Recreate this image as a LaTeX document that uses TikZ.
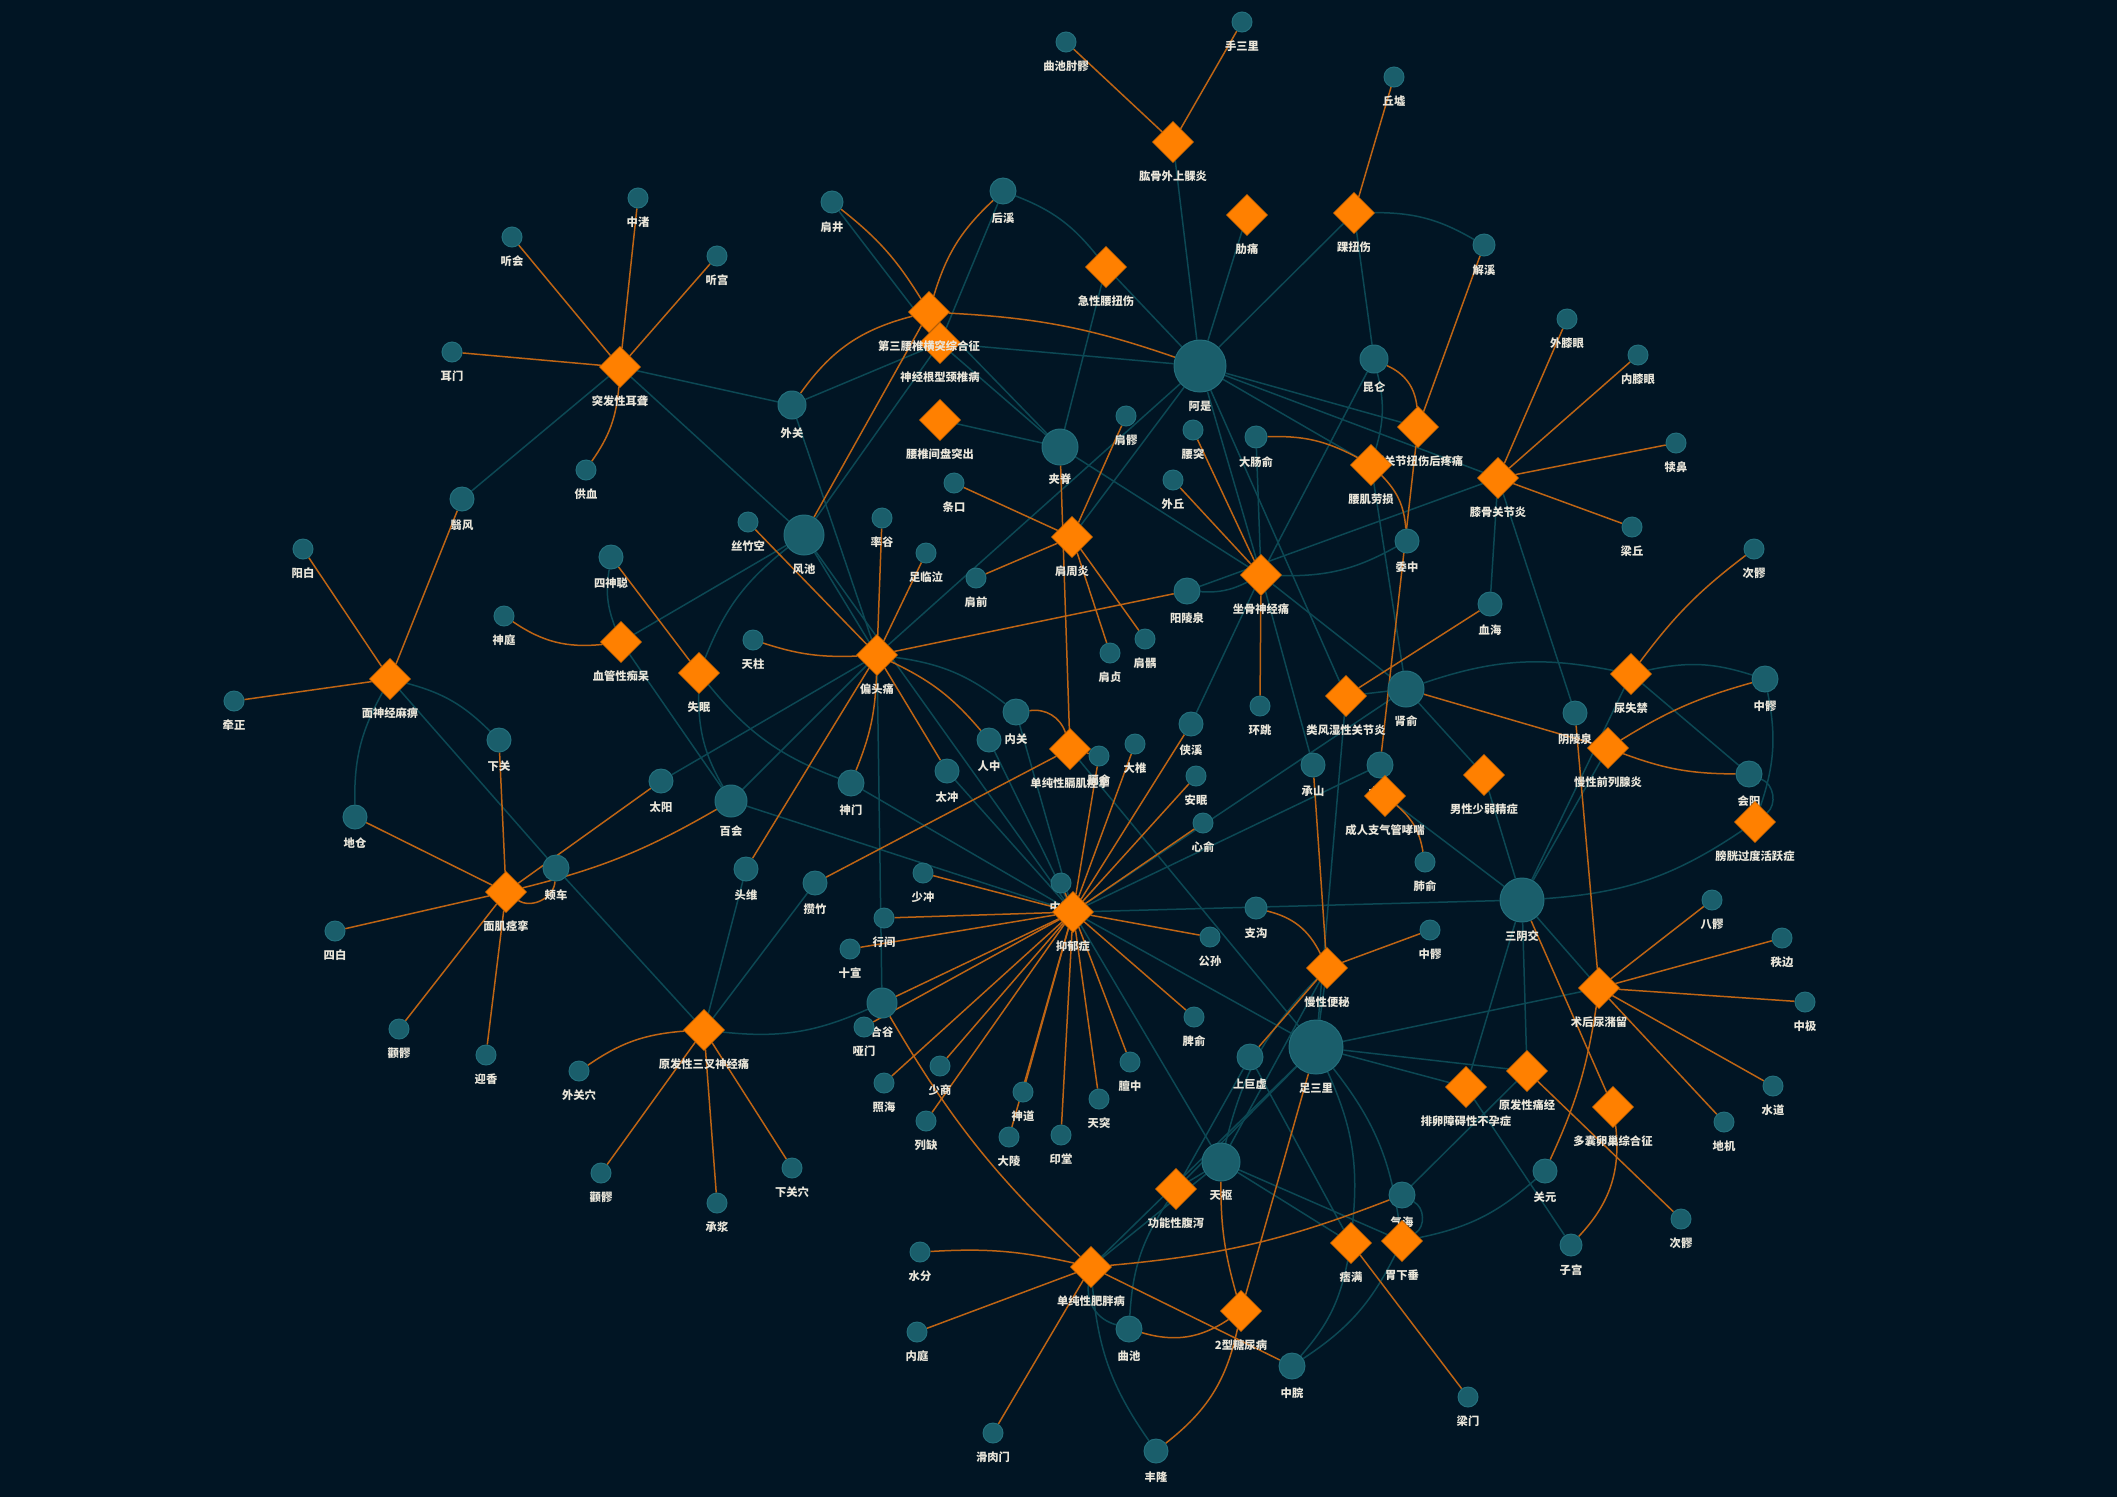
\documentclass[tikz,border=0pt]{standalone}
\usepackage{fontspec}
\newfontfamily\cjk{Noto Sans CJK SC}
\usetikzlibrary{shapes.geometric}
\definecolor{bgc}{HTML}{011524}
\definecolor{acufill}{HTML}{1A5E6B}
\definecolor{acuedge}{HTML}{236F7C}
\definecolor{disfill}{HTML}{FF8000}
\definecolor{disedge}{HTML}{E07000}
\definecolor{mainc}{HTML}{BE6414}
\definecolor{sidec}{HTML}{0C4854}
\definecolor{labc}{HTML}{EAE6DA}
\pgfdeclarelayer{bg}
\pgfdeclarelayer{links}
\pgfsetlayers{bg,links,main}
\newcommand\lblfont{\cjk\bfseries\fontsize{11.3}{13}\selectfont}

\begin{document}
\begin{tikzpicture}[x=1pt, y=1pt, label distance=8pt,
    acu/.style={circle, fill=acufill, draw=acuedge, line width=1pt, inner sep=0pt, minimum size=#1pt},
    dis/.style={diamond, fill=disfill, draw=disedge, line width=0.8pt, inner sep=0pt, minimum size=41pt},
    nm/.style={label={[lab]below:#1}},
    lab/.style={text=labc, font=\lblfont, inner sep=0pt},
    mainlink/.style={draw=mainc, line width=1.5pt},
    sidelink/.style={draw=sidec, line width=1.5pt}]
  \useasboundingbox (0,0) rectangle (2117,-1497);
  \begin{pgfonlayer}{bg}
    \fill[bgc] (0,0) rectangle (2117,-1497);
  \end{pgfonlayer}

  % acupoints
  \node[acu=20, nm=听会] (tinghui) at (512,-237) {};
  \node[acu=20, nm=耳门] (ermen) at (452,-352) {};
  \node[acu=24, nm=翳风] (yifeng) at (462,-499) {};
  \node[acu=20, nm=中渚] (zhongzhu) at (638,-198) {};
  \node[acu=20, nm=听宫] (tinggong) at (717,-256) {};
  \node[acu=22, nm=肩井] (jianjing) at (832,-202) {};
  \node[acu=26, nm=后溪] (houxi) at (1003,-191) {};
  \node[acu=28, nm=外关] (waiguan) at (792,-405) {};
  \node[acu=20, nm=供血] (gongxue) at (586,-470) {};
  \node[acu=20, nm=条口] (tiaokou) at (954,-483) {};
  \node[acu=20, nm=曲池肘髎] (quchizhouliao) at (1066,-42) {};
  \node[acu=20, nm=手三里] (shousanli) at (1242,-22) {};
  \node[acu=20, nm=丘墟] (qiuxu) at (1394,-77) {};
  \node[acu=22, nm=解溪] (jiexi) at (1484,-245) {};
  \node[acu=20, nm=外膝眼] (waixiyan) at (1567,-319) {};
  \node[acu=20, nm=内膝眼] (neixiyan) at (1638,-355) {};
  \node[acu=20, nm=犊鼻] (dubi) at (1676,-443) {};
  \node[acu=20, nm=梁丘] (liangqiu) at (1632,-527) {};
  \node[acu=52, nm=阿是] (ashi) at (1200,-366) {};
  \node[acu=28, nm=昆仑] (kunlun) at (1374,-359) {};
  \node[acu=20, nm=肩髎] (jianliao) at (1126,-416) {};
  \node[acu=20, nm=腰突] (yaotu) at (1193,-430) {};
  \node[acu=22, nm=大肠俞] (dachangshu) at (1256,-437) {};
  \node[acu=20, nm=外丘] (waiqiu) at (1173,-480) {};
  \node[acu=36, nm=夹脊] (jiaji) at (1060,-447) {};
  \node[acu=20, nm=阳白] (yangbai) at (303,-549) {};
  \node[acu=20, nm=神庭] (shenting) at (504,-616) {};
  \node[acu=20, nm=牵正] (qianzheng) at (234,-701) {};
  \node[acu=24, nm=下关] (xiaguan) at (499,-740) {};
  \node[acu=24, nm=地仓] (dicang) at (355,-817) {};
  \node[acu=20, nm=四白] (sibai) at (335,-931) {};
  \node[acu=20, nm=颧髎] (quanliaoA) at (399,-1029) {};
  \node[acu=20, nm=迎香] (yingxiang) at (486,-1055) {};
  \node[acu=20, nm=丝竹空] (sizhukong) at (748,-522) {};
  \node[acu=40, nm=风池] (fengchi) at (804,-535) {};
  \node[acu=20, nm=率谷] (shuaigu) at (882,-518) {};
  \node[acu=20, nm=足临泣] (zulinqi) at (926,-553) {};
  \node[acu=20, nm=肩前] (jianqian) at (976,-578) {};
  \node[acu=24, nm=四神聪] (sishencong) at (611,-557) {};
  \node[acu=20, nm=天柱] (tianzhu) at (753,-640) {};
  \node[acu=26, nm=内关] (neiguan) at (1016,-712) {};
  \node[acu=24, nm=人中] (renzhong) at (989,-740) {};
  \node[acu=24, nm=太冲] (taichong) at (947,-771) {};
  \node[acu=26, nm=神门] (shenmen) at (851,-783) {};
  \node[acu=24, nm=太阳] (taiyang) at (661,-781) {};
  \node[acu=32, nm=百会] (baihui) at (731,-801) {};
  \node[acu=26, nm=颊车] (jiache) at (556,-868) {};
  \node[acu=24, nm=头维] (touwei) at (746,-869) {};
  \node[acu=24, nm=攒竹] (cuanzhu) at (815,-883) {};
  \node[acu=20, nm=少冲] (shaochong) at (923,-873) {};
  \node[acu=20, nm=行间] (xingjian) at (884,-918) {};
  \node[acu=20, nm=十宣] (shixuan) at (850,-949) {};
  \node[acu=30, nm=合谷] (hegu) at (882,-1003) {};
  \node[acu=26, nm=阳陵泉] (yanglingquan) at (1187,-591) {};
  \node[acu=24, nm=委中] (weizhong) at (1407,-541) {};
  \node[acu=24, nm=血海] (xuehai) at (1490,-604) {};
  \node[acu=20, nm=肩贞] (jianzhen) at (1110,-653) {};
  \node[acu=20, nm=肩髃] (jianyu) at (1145,-639) {};
  \node[acu=20, nm=环跳] (huantiao) at (1260,-706) {};
  \node[acu=36, nm=肾俞] (shenshu) at (1406,-689) {};
  \node[acu=24, nm=侠溪] (xiaxi) at (1191,-724) {};
  \node[acu=20, nm=大椎] (dazhui) at (1135,-744) {};
  \node[acu=20, nm=膈俞] (geshu) at (1099,-756) {};
  \node[acu=20, nm=安眠] (anmian) at (1196,-776) {};
  \node[acu=20, nm=心俞] (xinshu) at (1203,-823) {};
  \node[acu=24, nm=承山] (chengshan) at (1313,-765) {};
  \node[acu=26, nm=太溪] (taixi) at (1380,-765) {};
  \node[acu=20, nm=肺俞] (feishu) at (1425,-862) {};
  \node[acu=20, nm=中脘] (zhongwanA) at (1061,-883) {};
  \node[acu=22, nm=支沟] (zhigou) at (1256,-908) {};
  \node[acu=20, nm=公孙] (gongsun) at (1210,-937) {};
  \node[acu=44, nm=三阴交] (sanyinjiao) at (1522,-900) {};
  \node[acu=20, nm=中髎] (zhongliaoA) at (1430,-930) {};
  \node[acu=20, nm=次髎] (ciliaoA) at (1754,-549) {};
  \node[acu=26, nm=中髎] (zhongliaoB) at (1765,-679) {};
  \node[acu=26, nm=会阳] (huiyang) at (1749,-774) {};
  \node[acu=20, nm=八髎] (baliao) at (1712,-900) {};
  \node[acu=20, nm=秩边] (zhibian) at (1782,-938) {};
  \node[acu=24, nm=阴陵泉] (yinlingquan) at (1575,-713) {};
  \node[acu=20, nm=中极] (zhongji) at (1805,-1002) {};
  \node[acu=20, nm=水道] (shuidao) at (1773,-1086) {};
  \node[acu=20, nm=地机] (diji) at (1724,-1122) {};
  \node[acu=20, nm=次髎] (ciliaoB) at (1681,-1219) {};
  \node[acu=22, nm=子宫] (zigong) at (1571,-1245) {};
  \node[acu=20, nm=脾俞] (pishu) at (1194,-1017) {};
  \node[acu=26, nm=上巨虚] (shangjuxu) at (1250,-1057) {};
  \node[acu=54, nm=足三里] (zusanli) at (1316,-1047) {};
  \node[acu=20, nm=膻中] (danzhong) at (1130,-1062) {};
  \node[acu=20, nm=天突] (tiantu) at (1099,-1099) {};
  \node[acu=20, nm=印堂] (yintang) at (1061,-1135) {};
  \node[acu=38, nm=天枢] (tianshu) at (1221,-1162) {};
  \node[acu=26, nm=气海] (qihai) at (1402,-1195) {};
  \node[acu=24, nm=关元] (guanyuan) at (1545,-1171) {};
  \node[acu=26, nm=曲池] (quchi) at (1129,-1329) {};
  \node[acu=26, nm=中脘] (zhongwanB) at (1292,-1366) {};
  \node[acu=20, nm=梁门] (liangmen) at (1468,-1397) {};
  \node[acu=24, nm=丰隆] (fenglong) at (1156,-1451) {};
  \node[acu=20, nm=外关穴] (waiguanxue) at (579,-1071) {};
  \node[acu=20, nm=颧髎] (quanliaoB) at (601,-1173) {};
  \node[acu=20, nm=承浆] (chengjiang) at (717,-1203) {};
  \node[acu=20, nm=下关穴] (xiaguanxue) at (792,-1168) {};
  \node[acu=20, nm=哑门] (yamen) at (864,-1027) {};
  \node[acu=20, nm=照海] (zhaohai) at (884,-1083) {};
  \node[acu=20, nm=少商] (shaoshang) at (940,-1066) {};
  \node[acu=20, nm=列缺] (lieque) at (926,-1121) {};
  \node[acu=20, nm=神道] (shendao) at (1023,-1092) {};
  \node[acu=20, nm=大陵] (daling) at (1009,-1137) {};
  \node[acu=20, nm=水分] (shuifen) at (920,-1252) {};
  \node[acu=20, nm=内庭] (neiting) at (917,-1332) {};
  \node[acu=20, nm=滑肉门] (huaroumen) at (993,-1433) {};

  % diseases
  \node[dis, nm=肱骨外上髁炎] (gwsk) at (1173,-142) {};
  \node[dis, nm=踝扭伤] (huainiu) at (1354,-213) {};
  \node[dis, nm=肋痛] (leitong) at (1247,-215) {};
  \node[dis, nm=急性腰扭伤] (jixyn) at (1106,-267) {};
  \node[dis, nm=突发性耳聋] (tfen) at (620,-367) {};
  \node[dis, nm=神经根型颈椎病] (shenjg) at (940,-343) {};
  \node[dis, nm=第三腰椎横突综合征] (disan) at (929,-312) {};
  \node[dis, nm=腰椎间盘突出] (yaozhui) at (940,-420) {};
  \node[dis, nm=踝关节扭伤后疼痛] (huaigj) at (1418,-427) {};
  \node[dis, nm=腰肌劳损] (yaoji) at (1371,-465) {};
  \node[dis, nm=膝骨关节炎] (xigu) at (1498,-478) {};
  \node[dis, nm=肩周炎] (jianzhou) at (1072,-537) {};
  \node[dis, nm=坐骨神经痛] (zuogu) at (1261,-575) {};
  \node[dis, nm=面神经麻痹] (mianshen) at (390,-679) {};
  \node[dis, nm=血管性痴呆] (xueguan) at (621,-642) {};
  \node[dis, nm=失眠] (shimian) at (699,-673) {};
  \node[dis, nm=偏头痛] (piantou) at (877,-655) {};
  \node[dis, nm=单纯性膈肌痉挛] (geji) at (1070,-749) {};
  \node[dis, nm=类风湿性关节炎] (leifeng) at (1346,-696) {};
  \node[dis, nm=尿失禁] (niaoshi) at (1631,-674) {};
  \node[dis, nm=慢性前列腺炎] (qianlie) at (1608,-748) {};
  \node[dis, nm=男性少弱精症] (nanxing) at (1484,-775) {};
  \node[dis, nm=成人支气管哮喘] (xiaochuan) at (1385,-796) {};
  \node[dis, nm=膀胱过度活跃症] (pangguang) at (1755,-822) {};
  \node[dis, nm=面肌痉挛] (mianji) at (506,-892) {};
  \node[dis, nm=抑郁症] (yiyu) at (1073,-912) {};
  \node[dis, nm=慢性便秘] (bianmi) at (1327,-968) {};
  \node[dis, nm=术后尿潴留] (shuhou) at (1599,-988) {};
  \node[dis, nm=原发性三叉神经痛] (sancha) at (704,-1030) {};
  \node[dis, nm=排卵障碍性不孕症] (pailuan) at (1466,-1087) {};
  \node[dis, nm=原发性痛经] (tongjing) at (1527,-1071) {};
  \node[dis, nm=多囊卵巢综合征] (duonang) at (1613,-1107) {};
  \node[dis, nm=功能性腹泻] (gongneng) at (1176,-1189) {};
  \node[dis, nm=痞满] (piman) at (1351,-1243) {};
  \node[dis, nm=胃下垂] (weixia) at (1402,-1241) {};
  \node[dis, nm=单纯性肥胖病] (feipang) at (1091,-1267) {};
  \node[dis, nm=2型糖尿病] (tangniao) at (1241,-1311) {};

  \begin{pgfonlayer}{links}
    % side links
    \foreach \a/\b in {gwsk/ashi, huainiu/ashi, huainiu/kunlun, leitong/ashi, jixyn/ashi, jixyn/jiaji,
        jianjing/shenjg, houxi/shenjg, shenjg/ashi, shenjg/waiguan, shenjg/fengchi, shenjg/jiaji,
        disan/jiaji, yaozhui/jiaji, tfen/waiguan, tfen/yifeng, tfen/fengchi,
        ashi/huaigj, ashi/xigu, ashi/yaoji, ashi/zuogu, ashi/jianzhou, ashi/leifeng, ashi/piantou,
        kunlun/zuogu, xigu/xuehai, xigu/yinlingquan, xigu/yanglingquan, yaoji/shenshu,
        zuogu/chengshan, zuogu/shenshu, zuogu/jiaji, zuogu/xiaxi, zuogu/dachangshu, leifeng/zusanli,
        mianshen/jiache, jiache/sancha, touwei/sancha, cuanzhu/sancha,
        xueguan/fengchi, xueguan/baihui, taiyang/piantou, baihui/piantou, baihui/yiyu,
        fengchi/piantou, fengchi/yiyu, shenmen/yiyu, piantou/hegu, waiguan/piantou,
        neiguan/yiyu, renzhong/yiyu, taichong/yiyu, geji/zusanli, yiyu/zusanli, yiyu/tianshu,
        yiyu/sanyinjiao, yiyu/shenshu, yiyu/taixi, shenshu/leifeng, shenshu/nanxing,
        nanxing/sanyinjiao, xiaochuan/sanyinjiao, bianmi/tianshu, bianmi/zusanli,
        niaoshi/huiyang, niaoshi/sanyinjiao, qianlie/sanyinjiao, shuhou/sanyinjiao, shuhou/zusanli,
        tongjing/sanyinjiao, tongjing/zusanli, tongjing/qihai, pailuan/sanyinjiao, pailuan/zusanli,
        pailuan/zigong, piman/shangjuxu, piman/tianshu, weixia/tianshu,
        gongneng/tianshu, gongneng/zusanli, gongneng/shangjuxu, feipang/tianshu, feipang/zusanli}
      \draw[sidelink] (\a) -- (\b);
    \foreach \a/\b/\s in {huainiu/jiexi/left, houxi/jixyn/left, kunlun/yaoji/left,
        yanglingquan/zuogu/right, zuogu/weizhong/right, mianshen/dicang/right,
        mianshen/xiaguan/left, sancha/hegu/right, sishencong/xueguan/right,
        shimian/fengchi/left, shimian/baihui/right, shimian/shenmen/right,
        piantou/neiguan/left, shenshu/niaoshi/left, tianshu/bianmi/left,
        niaoshi/zhongliaoB/left, zhongliaoB/pangguang/left, pangguang/sanyinjiao/left,
        zusanli/piman/left, zhongwanB/piman/right, zusanli/weixia/left,
        zhongwanB/weixia/right, weixia/guanyuan/right, gongneng/quchi/right,
        feipang/fenglong/right}
      \draw[sidelink] (\a) to[bend \s=15] (\b);
    \draw[sidelink] (huiyang) to[bend left=60] (pangguang);
    \draw[sidelink] (qihai) to[bend left=60] (weixia);
    \draw[sidelink] (feipang) to[bend right=40] (quchi);

    % main links
    \foreach \a/\b in {gwsk/quchizhouliao, gwsk/shousanli, huainiu/qiuxu,
        tfen/tinghui, tfen/zhongzhu, tfen/tinggong, tfen/ermen, disan/fengchi,
        huaigj/jiexi, huaigj/taixi, xigu/waixiyan, xigu/neixiyan, xigu/dubi, xigu/liangqiu,
        jianzhou/jianliao, jianzhou/tiaokou, jianzhou/jianqian, jianzhou/jianzhen, jianzhou/jianyu,
        jiaji/geji, zuogu/yaotu, zuogu/waiqiu, zuogu/huantiao,
        piantou/sizhukong, piantou/shuaigu, piantou/zulinqi, piantou/taichong, piantou/touwei,
        piantou/yanglingquan, shimian/sishencong, mianshen/yangbai, mianshen/yifeng, mianshen/qianzheng,
        mianji/xiaguan, mianji/dicang, mianji/sibai, mianji/quanliaoA, mianji/yingxiang, mianji/taiyang,
        sancha/quanliaoB, sancha/chengjiang, sancha/xiaguanxue, geji/cuanzhu, geji/geshu,
        yiyu/xingjian, yiyu/shixuan, yiyu/shaochong, yiyu/hegu, yiyu/yamen, yiyu/zhaohai,
        yiyu/shaoshang, yiyu/lieque, yiyu/shendao, yiyu/daling, yiyu/yintang, yiyu/tiantu,
        yiyu/danzhong, yiyu/pishu, yiyu/gongsun, yiyu/xiaxi, yiyu/anmian, yiyu/dazhui,
        yiyu/geshu, yiyu/xinshu, yiyu/zhongwanA, leifeng/xuehai,
        bianmi/zhongliaoA, bianmi/chengshan, bianmi/shangjuxu, shenshu/qianlie,
        shuhou/baliao, shuhou/zhibian, shuhou/zhongji, shuhou/shuidao, shuhou/diji, shuhou/yinlingquan,
        duonang/sanyinjiao, tongjing/ciliaoB, piman/liangmen,
        feipang/neiting, feipang/huaroumen, feipang/zhongwanB, tangniao/zusanli}
      \draw[mainlink] (\a) -- (\b);
    \foreach \a/\b/\s/\n in {tfen/gongxue/left/15, disan/jianjing/right/10, disan/houxi/left/15,
        disan/ashi/left/8, disan/waiguan/right/20, kunlun/huaigj/left/30, yaoji/weizhong/left/20,
        dachangshu/yaoji/left/15, tianzhu/piantou/right/10, piantou/shenmen/left/10,
        piantou/renzhong/left/12, shenting/xueguan/right/20, mianji/baihui/right/8,
        mianji/jiache/right/60, sancha/waiguanxue/right/15, neiguan/geji/left/40,
        xiaochuan/feishu/left/20, zhigou/bianmi/left/25, niaoshi/ciliaoA/left/8,
        qianlie/zhongliaoB/left/8, qianlie/huiyang/right/10, shuhou/guanyuan/left/8,
        duonang/zigong/left/25, shuifen/feipang/left/8, feipang/qihai/right/8,
        hegu/feipang/right/8, tianshu/tangniao/right/8, quchi/tangniao/right/25,
        fenglong/tangniao/right/20}
      \draw[mainlink] (\a) to[bend \s=\n] (\b);
  \end{pgfonlayer}
\end{tikzpicture}
\end{document}
